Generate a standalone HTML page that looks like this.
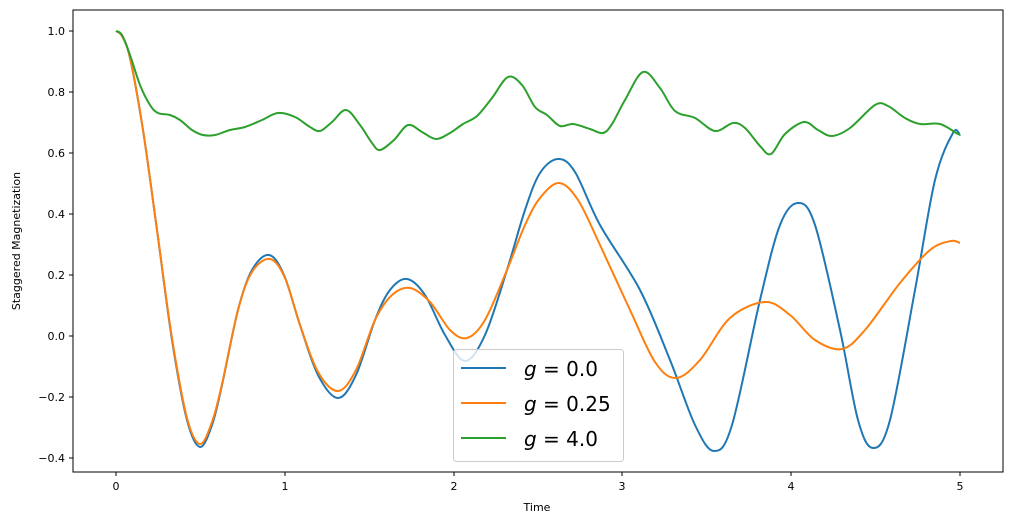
<!DOCTYPE html>
<html><head><meta charset="utf-8"><style>
body{margin:0;background:#fff;}
text{font-family:"DejaVu Sans","Liberation Sans",sans-serif;fill:#000;}
</style></head><body>
<svg id="s" width="1012" height="525" xmlns="http://www.w3.org/2000/svg">
<rect width="1012" height="525" fill="#fff"/>
<g id="curves" fill="none" stroke-width="2" stroke-linejoin="round"></g>
<rect x="73" y="10" width="930" height="462" fill="none" stroke="#000" stroke-width="1"/>
<g stroke="#000" stroke-width="1">
<line x1="116" y1="472" x2="116" y2="476"/><line x1="285" y1="472" x2="285" y2="476"/>
<line x1="454" y1="472" x2="454" y2="476"/><line x1="622" y1="472" x2="622" y2="476"/>
<line x1="791" y1="472" x2="791" y2="476"/><line x1="960" y1="472" x2="960" y2="476"/>
<line x1="69" y1="31" x2="73" y2="31"/><line x1="69" y1="92" x2="73" y2="92"/>
<line x1="69" y1="153" x2="73" y2="153"/><line x1="69" y1="214" x2="73" y2="214"/>
<line x1="69" y1="275" x2="73" y2="275"/><line x1="69" y1="336" x2="73" y2="336"/>
<line x1="69" y1="397" x2="73" y2="397"/><line x1="69" y1="458" x2="73" y2="458"/>
</g>
<g font-size="11" text-anchor="middle">
<text x="116" y="490">0</text><text x="285" y="490">1</text><text x="454" y="490">2</text>
<text x="622" y="490">3</text><text x="791" y="490">4</text><text x="960" y="490">5</text>
<text x="537" y="511">Time</text>
</g>
<g font-size="11" text-anchor="end">
<text x="65" y="35">1.0</text><text x="65" y="96">0.8</text><text x="65" y="157">0.6</text>
<text x="65" y="218">0.4</text><text x="65" y="279">0.2</text><text x="65" y="340">0.0</text>
<text x="65" y="401">−0.2</text><text x="65" y="462">−0.4</text>
</g>
<text font-size="11" text-anchor="middle" transform="translate(20,241) rotate(-90)">Staggered Magnetization</text>
<rect x="453.5" y="349.5" width="170" height="112" rx="3" fill="#fff" fill-opacity="0.8" stroke="#ccc"/>
<g stroke-width="2">
<line x1="461" y1="368" x2="506" y2="368" stroke="#1f77b4"/>
<line x1="461" y1="403" x2="506" y2="403" stroke="#ff7f0e"/>
<line x1="461" y1="438" x2="506" y2="438" stroke="#2ca02c"/>
</g>
<g font-size="20">
<text x="524" y="376"><tspan font-style="italic">g</tspan> = 0.0</text>
<text x="524" y="411"><tspan font-style="italic">g</tspan> = 0.25</text>
<text x="524" y="446"><tspan font-style="italic">g</tspan> = 4.0</text>
</g>
</svg>
<script>
function cr(p){let d="M"+p[0][0]+","+p[0][1];for(let i=0;i<p.length-1;i++){const a=p[i-1]||p[i],b=p[i],c=p[i+1],e=p[i+2]||c;
d+=" C"+(b[0]+(c[0]-a[0])/6)+","+(b[1]+(c[1]-a[1])/6)+" "+(c[0]-(e[0]-b[0])/6)+","+(c[1]-(e[1]-b[1])/6)+" "+c[0]+","+c[1];}return d;}
const B=[[116,31],[122,36],[130,58],[143,130],[157,230],[172,340],[187,420],[200,447],[212,425],[222,385],[238,310],[252,270],[269,255],[284,275],[300,325],[318,375],[338,398],[356,375],[375,320],[390,290],[407,279],[425,295],[445,335],[465,361],[485,335],[507,270],[525,210],[540,173],[558,159],[575,172],[600,225],[640,290],[670,360],[695,425],[714,451],[732,425],[760,300],[780,225],[798,203],[815,225],[840,330],[858,420],[873,448],[890,420],[915,290],[935,180],[953,133],[960,135]];
const O=[[116,31],[122,36],[130,58],[143,130],[157,230],[172,338],[187,418],[200,444],[212,422],[222,384],[238,310],[252,272],[270,259],[285,278],[300,325],[318,372],[338,391],[356,370],[375,320],[392,295],[410,288],[430,302],[450,330],[467,338],[485,320],[507,270],[525,225],[540,198],[559,183],[578,200],[600,245],[630,310],[655,362],[676,378],[700,360],[730,318],[765,302],[790,315],[815,340],[842,349],[865,330],[900,283],[930,250],[951,241],[960,243]];
const G=[[116,31],[122,35],[130,55],[140,85],[150,105],[158,113],[170,115],[180,120],[192,130],[203,135],[215,135],[230,130],[245,127],[262,120],[278,113],[295,117],[310,127],[320,131],[332,122],[346,110],[360,125],[372,143],[380,150],[394,140],[408,125],[422,132],[436,139],[450,133],[463,124],[477,116],[492,98],[508,77],[522,85],[535,107],[547,115],[560,126],[573,124],[590,129],[603,133],[612,124],[625,100],[643,72],[660,88],[675,111],[695,118],[715,131],[733,123],[745,128],[760,146],[771,154],[785,134],[804,122],[818,130],[832,136],[850,128],[875,105],[888,106],[905,118],[920,124],[940,124],[958,134],[960,134]];
const g=document.getElementById("curves");
[[B,"#1f77b4"],[O,"#ff7f0e"],[G,"#2ca02c"]].forEach(([p,c])=>{const e=document.createElementNS("http://www.w3.org/2000/svg","path");e.setAttribute("d",cr(p));e.setAttribute("stroke",c);g.appendChild(e);});
</script>
</body></html>
